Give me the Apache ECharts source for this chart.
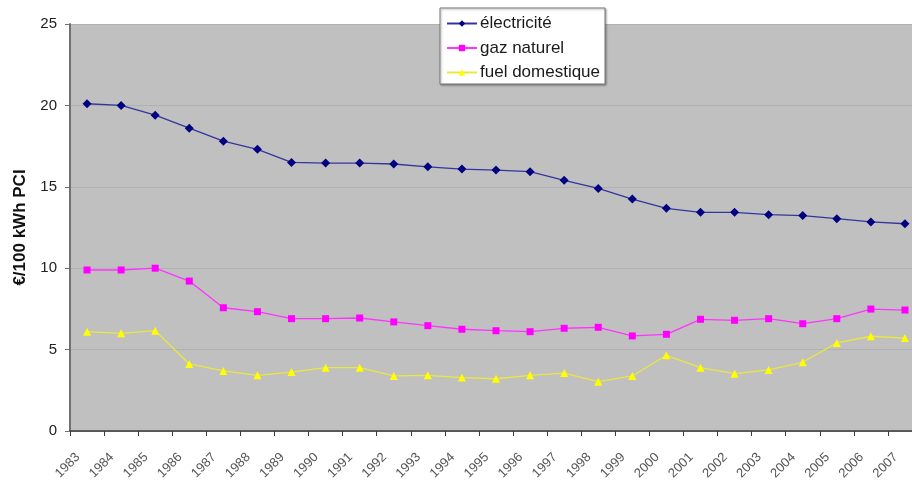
<!DOCTYPE html>
<html>
<head>
<meta charset="utf-8">
<script src="https://cdn.jsdelivr.net/npm/echarts@6/dist/echarts.min.js"></script>
<style>html,body{margin:0;padding:0;background:#fff}#c{width:912px;height:484px}</style>
</head>
<body>
<div id="c"></div>
<script>
const years = ['1983','1984','1985','1986','1987','1988','1989','1990','1991','1992','1993','1994','1995','1996','1997','1998','1999','2000','2001','2002','2003','2004','2005','2006','2007'];
const electricite = [20.1,20.0,19.4,18.6,17.8,17.3,16.5,16.46,16.46,16.4,16.23,16.09,16.03,15.93,15.4,14.9,14.25,13.68,13.43,13.43,13.29,13.23,13.04,12.84,12.73];
const gazNaturel = [9.89,9.89,10.0,9.21,7.57,7.33,6.9,6.9,6.94,6.7,6.47,6.25,6.16,6.1,6.31,6.37,5.84,5.94,6.86,6.8,6.9,6.59,6.9,7.49,7.43];
const fuelDomestique = [6.1,6.0,6.16,4.12,3.69,3.42,3.62,3.89,3.89,3.38,3.42,3.28,3.21,3.42,3.56,3.03,3.38,4.65,3.89,3.52,3.75,4.22,5.41,5.82,5.71];
const seriesNames = ['électricité','gaz naturel','fuel domestique'];
const yTicks = {min:0, max:25, interval:5};

const chart = echarts.init(document.getElementById('c'), null, {renderer:'canvas'});
const font = '"Liberation Sans", Arial, sans-serif';
chart.setOption({
  animation:false,
  textStyle:{fontFamily:font},
  grid:{left:70, right:-10, top:24, bottom:53, show:true, backgroundColor:'#c0c0c0', borderWidth:0,
        outerBoundsMode:'none', containLabel:false},
  legend:{
    orient:'vertical', left:440, top:8,
    backgroundColor:'#ffffff', borderColor:'#7a7a7a', borderWidth:1,
    shadowColor:'rgba(0,0,0,0.35)', shadowBlur:2, shadowOffsetX:1, shadowOffsetY:1,
    padding:[7,5,3,6], itemGap:7.5, itemWidth:30, itemHeight:8,
    textStyle:{fontFamily:font, fontSize:17, color:'#1a1a1a', padding:[0,0,0,-2]},
    data:seriesNames
  },
  xAxis:{
    type:'category', data:years, boundaryGap:true,
    axisLine:{lineStyle:{color:'#3a3a3a', width:1.5}},
    axisTick:{show:true, inside:false, length:5, lineStyle:{color:'#3a3a3a'}},
    axisLabel:{interval:0, rotate:45, fontSize:13, color:'#555', margin:15, padding:[0,13,0,0], fontFamily:font},
    splitLine:{show:false}
  },
  yAxis:{
    type:'value', min:yTicks.min, max:yTicks.max, interval:yTicks.interval,
    name:'€/100 kWh PCI', nameLocation:'middle', nameRotate:90, nameGap:41,
    nameTextStyle:{fontSize:17, fontWeight:'bold', color:'#111', fontFamily:font},
    axisLine:{show:true, lineStyle:{color:'#707070', width:2}},
    axisTick:{show:true, inside:false, length:5, lineStyle:{color:'#707070'}},
    axisLabel:{fontSize:15, color:'#222', margin:13, fontFamily:font},
    splitLine:{show:true, lineStyle:{color:'#b0b0b0', width:1}}
  },
  series:[
    {name:seriesNames[0], type:'line', data:electricite, symbol:'diamond', symbolSize:9,
     itemStyle:{color:'#000080'}, lineStyle:{color:'#3434a0', width:1.3}},
    {name:seriesNames[1], type:'line', data:gazNaturel, symbol:'rect', symbolSize:7,
     itemStyle:{color:'#ff00ff'}, lineStyle:{color:'#ff33ff', width:1.3}},
    {name:seriesNames[2], type:'line', data:fuelDomestique, symbol:'triangle', symbolSize:8,
     itemStyle:{color:'#ffff00'}, lineStyle:{color:'#e8e840', width:1.3}}
  ]
});
</script>
</body>
</html>
